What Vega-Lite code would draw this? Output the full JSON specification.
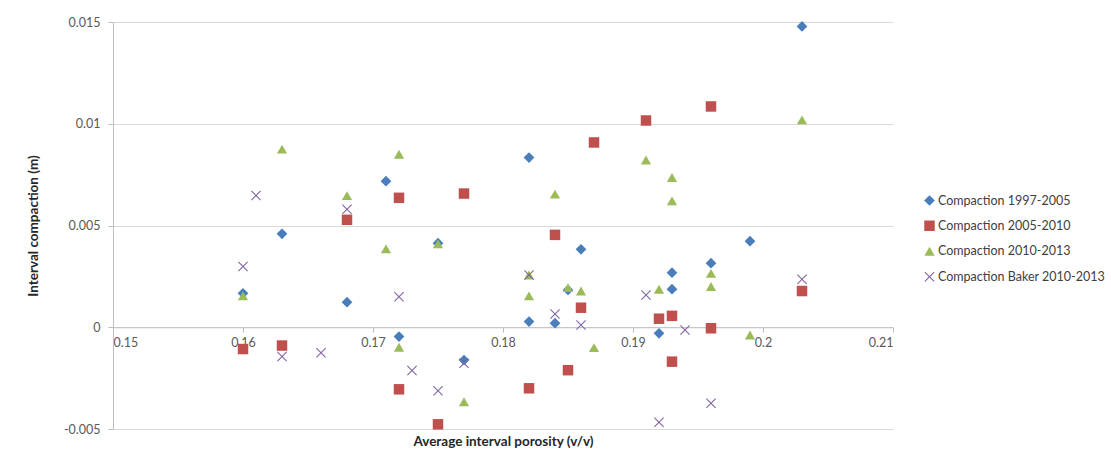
{
  "$schema": "https://vega.github.io/schema/vega-lite/v6.json",
  "width": 780,
  "height": 407,
  "autosize": {"type": "none"},
  "padding": {"left": 113, "top": 22, "right": 218, "bottom": 35},
  "background": "white",
  "config": {"view": {"stroke": null}, "font": "Lato"},
  "data": {"values": [
    {"p": 0.160, "c": 0.00167, "s": "Compaction 1997-2005"},
    {"p": 0.163, "c": 0.00459, "s": "Compaction 1997-2005"},
    {"p": 0.168, "c": 0.00123, "s": "Compaction 1997-2005"},
    {"p": 0.171, "c": 0.00718, "s": "Compaction 1997-2005"},
    {"p": 0.172, "c": -0.00046, "s": "Compaction 1997-2005"},
    {"p": 0.175, "c": 0.00413, "s": "Compaction 1997-2005"},
    {"p": 0.177, "c": -0.00161, "s": "Compaction 1997-2005"},
    {"p": 0.182, "c": 0.00834, "s": "Compaction 1997-2005"},
    {"p": 0.182, "c": 0.00028, "s": "Compaction 1997-2005"},
    {"p": 0.184, "c": 0.0002, "s": "Compaction 1997-2005"},
    {"p": 0.185, "c": 0.00183, "s": "Compaction 1997-2005"},
    {"p": 0.186, "c": 0.00383, "s": "Compaction 1997-2005"},
    {"p": 0.192, "c": -0.0003, "s": "Compaction 1997-2005"},
    {"p": 0.193, "c": 0.00268, "s": "Compaction 1997-2005"},
    {"p": 0.193, "c": 0.00187, "s": "Compaction 1997-2005"},
    {"p": 0.196, "c": 0.00315, "s": "Compaction 1997-2005"},
    {"p": 0.199, "c": 0.00423, "s": "Compaction 1997-2005"},
    {"p": 0.203, "c": 0.01478, "s": "Compaction 1997-2005"},
    {"p": 0.160, "c": -0.00107, "s": "Compaction 2005-2010"},
    {"p": 0.163, "c": -0.0009, "s": "Compaction 2005-2010"},
    {"p": 0.168, "c": 0.00528, "s": "Compaction 2005-2010"},
    {"p": 0.172, "c": 0.00636, "s": "Compaction 2005-2010"},
    {"p": 0.172, "c": -0.00305, "s": "Compaction 2005-2010"},
    {"p": 0.175, "c": -0.00477, "s": "Compaction 2005-2010"},
    {"p": 0.177, "c": 0.00657, "s": "Compaction 2005-2010"},
    {"p": 0.182, "c": -0.003, "s": "Compaction 2005-2010"},
    {"p": 0.184, "c": 0.00454, "s": "Compaction 2005-2010"},
    {"p": 0.185, "c": -0.00211, "s": "Compaction 2005-2010"},
    {"p": 0.186, "c": 0.00096, "s": "Compaction 2005-2010"},
    {"p": 0.187, "c": 0.00908, "s": "Compaction 2005-2010"},
    {"p": 0.191, "c": 0.01016, "s": "Compaction 2005-2010"},
    {"p": 0.192, "c": 0.00042, "s": "Compaction 2005-2010"},
    {"p": 0.193, "c": 0.00056, "s": "Compaction 2005-2010"},
    {"p": 0.193, "c": -0.00169, "s": "Compaction 2005-2010"},
    {"p": 0.196, "c": 0.01085, "s": "Compaction 2005-2010"},
    {"p": 0.196, "c": -0.00005, "s": "Compaction 2005-2010"},
    {"p": 0.203, "c": 0.00178, "s": "Compaction 2005-2010"},
    {"p": 0.160, "c": 0.00154, "s": "Compaction 2010-2013"},
    {"p": 0.163, "c": 0.00875, "s": "Compaction 2010-2013"},
    {"p": 0.168, "c": 0.00647, "s": "Compaction 2010-2013"},
    {"p": 0.171, "c": 0.00385, "s": "Compaction 2010-2013"},
    {"p": 0.172, "c": 0.0085, "s": "Compaction 2010-2013"},
    {"p": 0.172, "c": -0.00098, "s": "Compaction 2010-2013"},
    {"p": 0.175, "c": 0.0041, "s": "Compaction 2010-2013"},
    {"p": 0.177, "c": -0.00366, "s": "Compaction 2010-2013"},
    {"p": 0.182, "c": 0.00257, "s": "Compaction 2010-2013"},
    {"p": 0.182, "c": 0.00154, "s": "Compaction 2010-2013"},
    {"p": 0.184, "c": 0.00654, "s": "Compaction 2010-2013"},
    {"p": 0.185, "c": 0.00195, "s": "Compaction 2010-2013"},
    {"p": 0.186, "c": 0.00178, "s": "Compaction 2010-2013"},
    {"p": 0.187, "c": -0.001, "s": "Compaction 2010-2013"},
    {"p": 0.191, "c": 0.00822, "s": "Compaction 2010-2013"},
    {"p": 0.192, "c": 0.00187, "s": "Compaction 2010-2013"},
    {"p": 0.193, "c": 0.00736, "s": "Compaction 2010-2013"},
    {"p": 0.193, "c": 0.00621, "s": "Compaction 2010-2013"},
    {"p": 0.196, "c": 0.00265, "s": "Compaction 2010-2013"},
    {"p": 0.196, "c": 0.002, "s": "Compaction 2010-2013"},
    {"p": 0.199, "c": -0.00038, "s": "Compaction 2010-2013"},
    {"p": 0.203, "c": 0.01019, "s": "Compaction 2010-2013"},
    {"p": 0.160, "c": 0.00298, "s": "Compaction Baker 2010-2013"},
    {"p": 0.161, "c": 0.00647, "s": "Compaction Baker 2010-2013"},
    {"p": 0.163, "c": -0.00144, "s": "Compaction Baker 2010-2013"},
    {"p": 0.166, "c": -0.00125, "s": "Compaction Baker 2010-2013"},
    {"p": 0.168, "c": 0.0058, "s": "Compaction Baker 2010-2013"},
    {"p": 0.172, "c": 0.0015, "s": "Compaction Baker 2010-2013"},
    {"p": 0.173, "c": -0.00213, "s": "Compaction Baker 2010-2013"},
    {"p": 0.175, "c": -0.00312, "s": "Compaction Baker 2010-2013"},
    {"p": 0.177, "c": -0.00177, "s": "Compaction Baker 2010-2013"},
    {"p": 0.182, "c": 0.00257, "s": "Compaction Baker 2010-2013"},
    {"p": 0.184, "c": 0.00065, "s": "Compaction Baker 2010-2013"},
    {"p": 0.186, "c": 0.00011, "s": "Compaction Baker 2010-2013"},
    {"p": 0.191, "c": 0.00159, "s": "Compaction Baker 2010-2013"},
    {"p": 0.192, "c": -0.00467, "s": "Compaction Baker 2010-2013"},
    {"p": 0.194, "c": -0.00013, "s": "Compaction Baker 2010-2013"},
    {"p": 0.196, "c": -0.00374, "s": "Compaction Baker 2010-2013"},
    {"p": 0.203, "c": 0.00236, "s": "Compaction Baker 2010-2013"}
  ]},
  "mark": {"type": "point", "filled": true, "opacity": 1},
  "encoding": {
    "x": {
      "field": "p", "type": "quantitative",
      "scale": {"domain": [0.15, 0.21], "nice": false, "zero": false},
      "axis": {
        "title": "Average interval porosity (v/v)",
        "values": [0.15, 0.16, 0.17, 0.18, 0.19, 0.2, 0.21],
        "labelExpr": "'' + datum.value",
        "offset": -101.75,
        "grid": false,
        "domainColor": "#BFBFBF",
        "tickColor": "#BFBFBF",
        "tickSize": 5,
        "labelPadding": 4,
        "labelFontSize": 12.5,
        "labelColor": "#595959",
        "titleFontSize": 13.5,
        "titleFontWeight": "bold",
        "titleColor": "#262626",
        "titleBaseline": "middle",
        "titleY": 114,
        "titleX": 390
      }
    },
    "y": {
      "field": "c", "type": "quantitative",
      "scale": {"domain": [-0.005, 0.015], "nice": false, "zero": false},
      "axis": {
        "title": "Interval compaction (m)",
        "values": [-0.005, 0, 0.005, 0.01, 0.015],
        "labelExpr": "'' + datum.value",
        "grid": true,
        "gridColor": "#D9D9D9",
        "domainColor": "#BFBFBF",
        "tickColor": "#BFBFBF",
        "tickSize": 5,
        "labelPadding": 8,
        "labelFontSize": 12.5,
        "labelColor": "#595959",
        "titleFontSize": 13.5,
        "titleFontWeight": "bold",
        "titleColor": "#262626",
        "titleX": -80,
        "titleY": 203.5,
        "titleBaseline": "middle",
        "titleAngle": -90
      }
    },
    "color": {
      "field": "s", "type": "nominal",
      "scale": {
        "domain": ["Compaction 1997-2005", "Compaction 2005-2010", "Compaction 2010-2013", "Compaction Baker 2010-2013"],
        "range": ["#4A7EBB", "#C0504D", "#9BBB59", "#8064A2"]
      },
      "legend": {
        "title": null,
        "orient": "none",
        "legendX": 810,
        "legendY": 172,
        "labelFontSize": 12.5,
        "labelColor": "#404040",
        "labelLimit": 400,
        "symbolSize": 60,
        "labelOffset": 2,
        "rowPadding": 12.5,
        "padding": 0
      }
    },
    "shape": {
      "field": "s", "type": "nominal",
      "scale": {
        "domain": ["Compaction 1997-2005", "Compaction 2005-2010", "Compaction 2010-2013", "Compaction Baker 2010-2013"],
        "range": ["diamond", "square", "triangle-up", "M-1,-0.85L-0.85,-1L0,-0.15L0.85,-1L1,-0.85L0.15,0L1,0.85L0.85,1L0,0.15L-0.85,1L-1,0.85L-0.15,0Z"]
      },
      "legend": null
    },
    "size": {
      "field": "s", "type": "nominal",
      "scale": {
        "domain": ["Compaction 1997-2005", "Compaction 2005-2010", "Compaction 2010-2013", "Compaction Baker 2010-2013"],
        "range": [115, 100, 135, 105]
      },
      "legend": null
    }
  }
}
